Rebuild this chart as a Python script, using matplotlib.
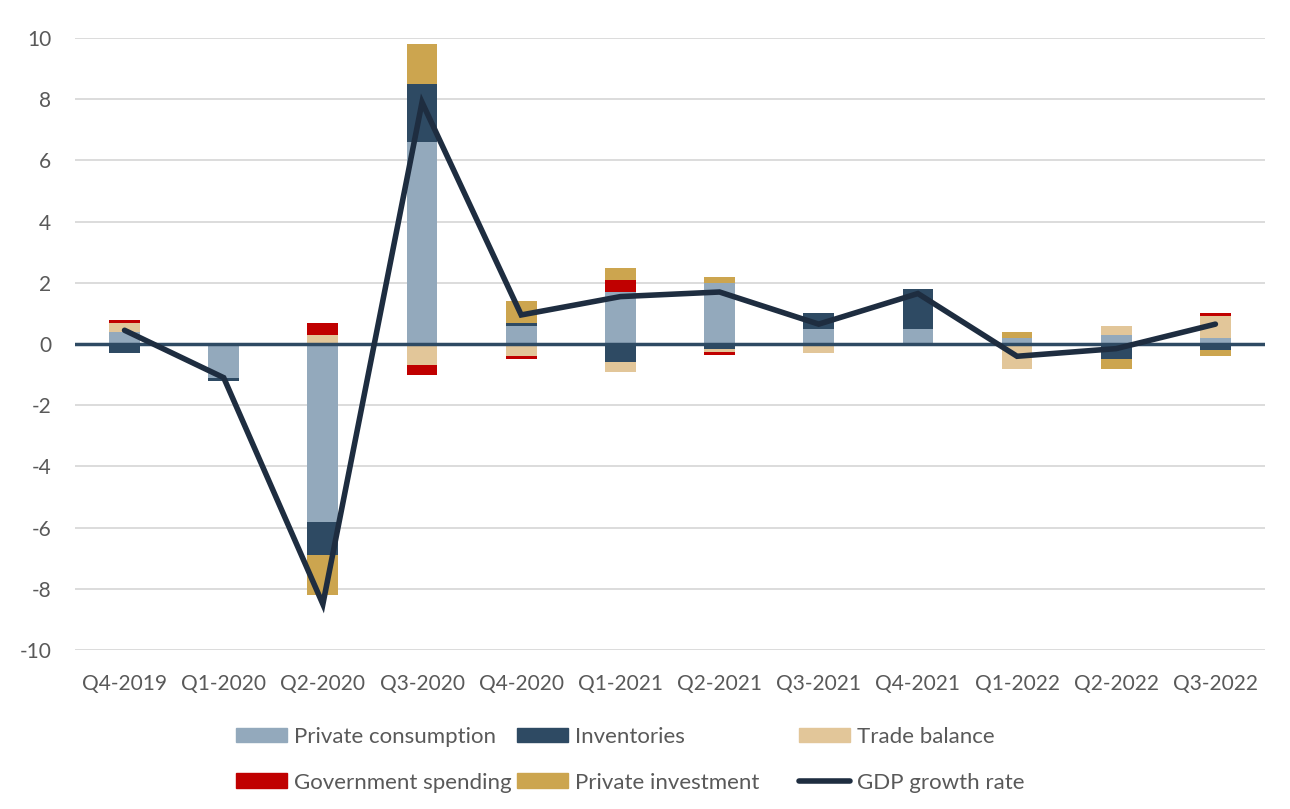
"""GDP growth contributions by component, Q4-2019 to Q3-2022."""

import matplotlib

matplotlib.use("Agg")
import matplotlib.pyplot as plt
import numpy as np
from matplotlib.lines import Line2D
from matplotlib.patches import Patch

plt.rcParams["font.family"] = ["Lato", "DejaVu Sans"]
plt.rcParams["axes.unicode_minus"] = False

quarters = ["Q4-2019", "Q1-2020", "Q2-2020", "Q3-2020", "Q4-2020", "Q1-2021",
            "Q2-2021", "Q3-2021", "Q4-2021", "Q1-2022", "Q2-2022", "Q3-2022"]
private_consumption = [0.4, -1.1, -5.8, 6.6, 0.6, 1.7, 2.0, 0.5, 0.5, 0.2, 0.3, 0.2]
inventories = [-0.3, -0.1, -1.1, 1.9, 0.1, -0.6, -0.15, 0.5, 1.3, 0.0, -0.5, -0.2]
trade_balance = [0.3, 0.0, 0.3, -0.7, -0.4, -0.3, -0.1, -0.3, 0.0, -0.8, 0.3, 0.7]
government_spending = [0.1, 0.0, 0.4, -0.3, -0.1, 0.4, -0.1, 0.0, 0.0, 0.0, 0.0, 0.1]
private_investment = [0.0, 0.0, -1.3, 1.3, 0.7, 0.4, 0.2, 0.0, 0.0, 0.2, -0.3, -0.2]
gdp_growth = [0.45, -1.1, -8.5, 7.9, 0.95, 1.55, 1.7, 0.65, 1.65, -0.4, -0.15, 0.65]

components = [
    ("Private consumption", private_consumption, "#93A9BC"),
    ("Inventories", inventories, "#2E4A63"),
    ("Trade balance", trade_balance, "#E2C699"),
    ("Government spending", government_spending, "#C00000"),
    ("Private investment", private_investment, "#CCA54F"),
]
line_color = "#1E2D40"
text_color = "#595959"

fig = plt.figure(figsize=(12.9, 8.09), dpi=100)
ax = fig.add_axes([0.0581, 0.1965, 0.9225, 0.7565])

x = np.arange(len(quarters))
pos_bottom = np.zeros(len(quarters))
neg_bottom = np.zeros(len(quarters))
for name, values, color in components:
    v = np.asarray(values, dtype=float)
    bottom = np.where(v >= 0, pos_bottom, neg_bottom)
    ax.bar(x, v, width=0.31, bottom=bottom, color=color, zorder=2)
    pos_bottom += np.where(v >= 0, v, 0)
    neg_bottom += np.where(v < 0, v, 0)

ax.axhline(0, color="#2E4A63", linewidth=2.5, zorder=3)
ax.plot(x, gdp_growth, color=line_color, linewidth=4, solid_capstyle="round",
        solid_joinstyle="miter", zorder=4)

ax.set_xlim(-0.5, len(quarters) - 0.5)
ax.set_ylim(-10, 10)
ax.set_yticks(np.arange(-10, 11, 2))
ax.set_xticks(x)
ax.set_xticklabels(quarters)
ax.yaxis.grid(True, color="#D9D9D9", linewidth=1.3, zorder=0)
ax.set_axisbelow(True)
for spine in ax.spines.values():
    spine.set_visible(False)
ax.tick_params(axis="both", length=0, labelsize=15, colors=text_color)
ax.tick_params(axis="x", pad=17)
ax.tick_params(axis="y", pad=17)

handles = [Patch(color=c, label=n) for n, _, c in components]
handles.append(Line2D([0], [0], color=line_color, linewidth=4,
                      solid_capstyle="round", label="GDP growth rate"))

# Excel lays out the legend in equal-width columns: one legend per column
columns = [(0, 3), (1, 4), (2, 5)]
col_left = [236, 517, 799]
for (a, b), left in zip(columns, col_left):
    leg = fig.legend([handles[a], handles[b]], [handles[a].get_label(), handles[b].get_label()],
                     loc="upper left", bbox_to_anchor=(left / 1290, 1 - 727 / 809),
                     ncol=1, frameon=False, fontsize=16, handlelength=2.3,
                     handleheight=0.63, handletextpad=0.3, labelspacing=1.15,
                     borderpad=0, borderaxespad=0)
    for t in leg.get_texts():
        t.set_color(text_color)

fig.savefig("out.png", dpi=100)
